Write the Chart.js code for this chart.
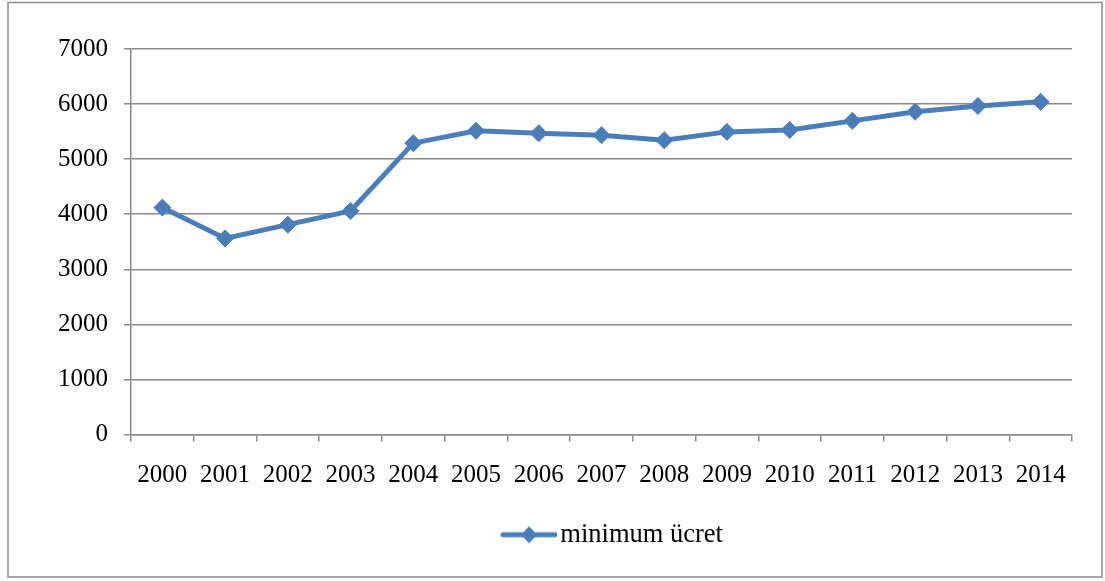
<!DOCTYPE html>
<html>
<head>
<meta charset="utf-8">
<script src="https://cdn.jsdelivr.net/npm/chart.js@4/dist/chart.umd.min.js"></script>
<style>
  html, body { margin: 0; padding: 0; background: #fff; }
  #wrap { width: 1105px; height: 581px; }
</style>
</head>
<body>
<div id="wrap"><canvas id="wageChart" width="1105" height="581"></canvas></div>
<script>
// data
const years = ['2000', '2001', '2002', '2003', '2004', '2005', '2006', '2007',
               '2008', '2009', '2010', '2011', '2012', '2013', '2014'];
const minWage = [4120, 3560, 3810, 4060, 5290, 5515, 5470, 5435,
                 5345, 5495, 5530, 5695, 5860, 5965, 6040];
const seriesName = 'minimum ücret';
const yMin = 0;
const yMax = 7000;
const yStep = 1000;

const blue = '#4A7EBB';
const gray = '#8a8a8a';
const serif = "'Liberation Serif', 'Times New Roman', serif";

// legend symbol: line with a diamond, pushed to the right end so it sits next to the text
const symBox = 158;
const symW = symBox + 20, symH = 20;
const sym = document.createElement('canvas');
sym.width = symW;
sym.height = symH;
const sctx = sym.getContext('2d');
sctx.strokeStyle = blue;
sctx.lineWidth = 5;
sctx.lineCap = 'round';
sctx.beginPath();
sctx.moveTo(symW - 56 + 2, symH / 2);
sctx.lineTo(symW - 2, symH / 2);
sctx.stroke();
sctx.fillStyle = blue;
sctx.beginPath();
const dx = symW - 28, dy = symH / 2;
sctx.moveTo(dx, dy - 8.5);
sctx.lineTo(dx + 8, dy);
sctx.lineTo(dx, dy + 8.5);
sctx.lineTo(dx - 8, dy);
sctx.closePath();
sctx.fill();

const frame = {
    id: 'frame',
    beforeDraw(chart) {
        const c = chart.ctx;
        c.save();
        c.fillStyle = '#fff';
        c.fillRect(0, 0, chart.width, chart.height);
        c.strokeStyle = gray;
        c.lineWidth = 1.5;
        c.strokeRect(8, 2.5, 1094, 574.5);
        c.restore();
    }
};

const ctx = document.getElementById('wageChart').getContext('2d');

const myChart = new Chart(ctx, {
    type: 'line',
    data: {
        labels: years,
        datasets: [{
            label: seriesName,
            data: minWage,
            borderColor: blue,
            backgroundColor: blue,
            borderWidth: 5,
            tension: 0,
            pointStyle: 'rectRot',
            pointRadius: 8.5,
            pointHoverRadius: 8.5,
            pointBackgroundColor: blue,
            pointBorderColor: blue,
            pointBorderWidth: 1
        }]
    },
    options: {
        responsive: false,
        animation: false,
        devicePixelRatio: 1,
        layout: {
            padding: { top: 49, right: 33, bottom: 23, left: 40 }
        },
        plugins: {
            tooltip: { enabled: false },
            legend: {
                position: 'bottom',
                labels: {
                    usePointStyle: true,
                    pointStyle: sym,
                    pointStyleWidth: symBox,
                    padding: 10,
                    color: '#000',
                    font: { family: serif, size: 26.5 }
                }
            }
        },
        scales: {
            x: {
                offset: true,
                afterFit(scale) { scale.height = 77; },
                grid: {
                    offset: true,
                    drawOnChartArea: false,
                    drawTicks: true,
                    tickLength: 7,
                    color: gray,
                    lineWidth: 1.5
                },
                border: { display: true, color: gray, width: 1.5 },
                ticks: {
                    color: '#000',
                    padding: 19,
                    maxRotation: 0,
                    autoSkip: false,
                    font: { family: serif, size: 25 }
                }
            },
            y: {
                min: yMin,
                max: yMax,
                afterFit(scale) { scale.width = 91; },
                grid: {
                    drawTicks: true,
                    tickLength: 7,
                    color: gray,
                    lineWidth: 1.5
                },
                border: { display: true, color: gray, width: 1.5 },
                ticks: {
                    stepSize: yStep,
                    color: '#000',
                    padding: 16,
                    font: { family: serif, size: 25 },
                    callback: v => String(v)
                }
            }
        }
    },
    plugins: [frame]
});
</script>
</body>
</html>
